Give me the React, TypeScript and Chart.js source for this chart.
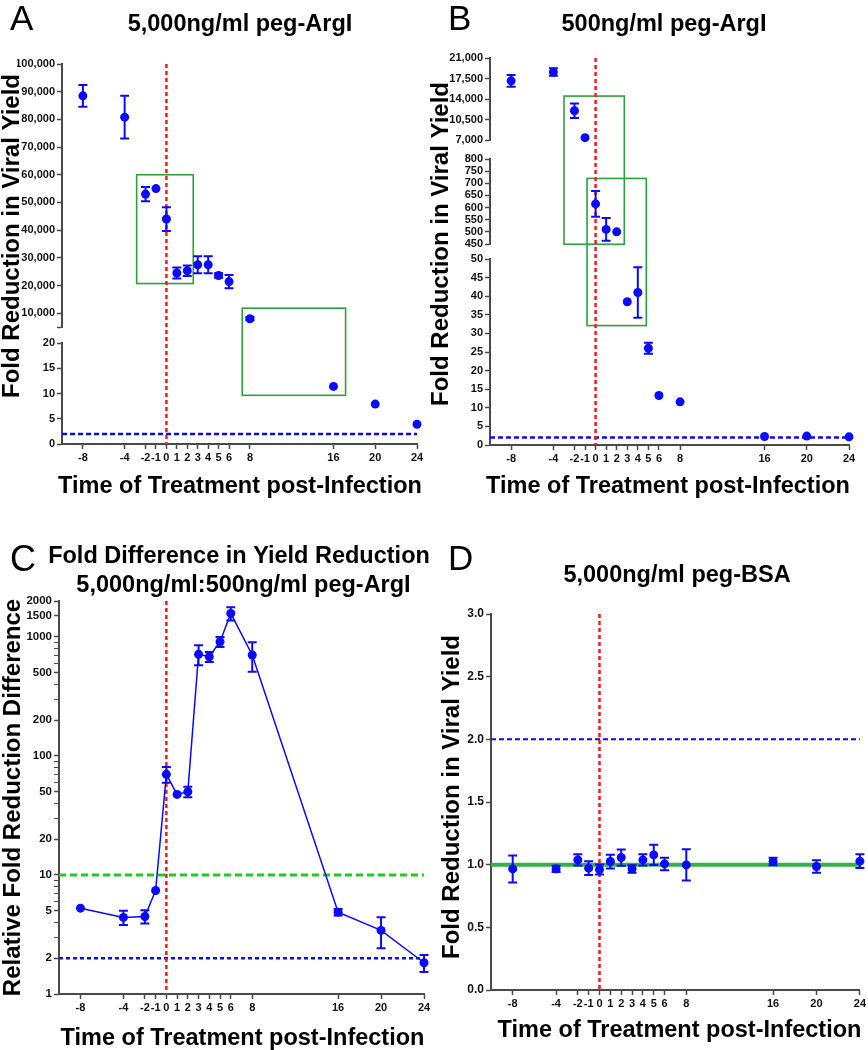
import React, { useEffect, useRef } from 'react';
import { Chart, registerables } from 'chart.js';

Chart.register(...registerables);

const FONT = '"Liberation Sans", Arial, Helvetica, sans-serif';
const AXIS = '#4a4a4a';
const BLUE = '#0a0aff';
const RED = '#ff1a1a';
const GREEN_RECT = '#2ea03c';
const W = 868;
const H = 1050;

// ---- data ----
const times = [-8, -4, -2, -1, 0, 1, 2, 3, 4, 5, 6, 8, 16, 20, 24];
const xTickValues = [-8, -4, -2, -1, 0, 1, 2, 3, 4, 5, 6, 8, 16, 20, 24];

const argi5000Values = [88500, 80800, 53000, 55000, 44000, 24500, 25300, 27500, 27500, 23600, 21400, 8000, 11.4, 7.9, 3.9];
const argi5000Errors = [3900, 7700, 2600, 0, 4300, 2000, 1900, 3100, 3100, 800, 2400, 600, 0, 0, 0];

const argi500Values = [17100, 18600, 12000, 7400, 615, 510, 500, 38.5, 41, 26, 13.3, 11.6, 2.3, 2.4, 2.2];
const argi500Errors = [1000, 650, 1250, 0, 53, 47, 0, 0, 6.8, 1.5, 0, 0, 0, 0, 0];

const ratioValues = [5.26, 4.4, 4.48, 7.4, 70, 47.5, 50, 713, 681, 910, 1574, 704, 4.87, 3.42, 1.83];
const ratioErrors = [0, 0.6, 0.57, 0, 10.5, 0, 5, 137, 65, 87, 200, 195, 0.3, 1.0, 0.3];

const bsaValues = [0.966, 0.966, 1.038, 0.972, 0.961, 1.025, 1.057, 0.966, 1.038, 1.078, 1.006, 0.998, 1.025, 0.985, 1.028];
const bsaErrors = [0.108, 0.025, 0.045, 0.055, 0.04, 0.055, 0.065, 0.03, 0.045, 0.08, 0.05, 0.125, 0.03, 0.05, 0.055];

const aTopTicks = [5000, 10000, 20000, 30000, 40000, 50000, 60000, 70000, 80000, 90000, 100000];
const aBottomTicks = [0, 5, 10, 15, 20];
const bTopTicks = [7000, 10500, 14000, 17500, 21000];
const bMidTicks = [450, 500, 550, 600, 650, 700, 750, 800];
const bBottomTicks = [0, 5, 10, 15, 20, 25, 30, 35, 40, 45, 50];
const cLabeledTicks = [1, 2, 5, 10, 20, 50, 100, 200, 500, 1000, 1500, 2000];
const cMinorTicks = [3, 4, 6, 7, 8, 9, 30, 40, 60, 70, 80, 90, 300, 400, 600, 700, 800, 900];
const dTicks = [0, 0.5, 1, 1.5, 2, 2.5, 3];

// boxes (data coordinates)
const aRects = [
  { x0: -2.85, x1: 2.57, top: 60000, topAxis: 'yTop', bottom: 20700, bottomAxis: 'yTop' },
  { x0: 7.26, x1: 17.16, top: 11800, topAxis: 'yTop', bottom: 9.64, bottomAxis: 'yBot' },
];
const bRects = [
  { x0: -2.99, x1: 2.72, top: 14500, topAxis: 'yTop', bottom: 449, bottomAxis: 'yMid' },
  { x0: -0.81, x1: 4.8, top: 720, topAxis: 'yMid', bottom: 32.1, bottomAxis: 'yBot' },
];

// ---- helpers ----
type Pt = { x: number; y: number; e: number };
function points(values: number[], errors: number[], keep: (v: number) => boolean): Pt[] {
  return times.map((t, i) => ({ x: t, y: values[i], e: errors[i] })).filter((p) => keep(p.y));
}

const pointStyle = {
  pointRadius: 4.5,
  pointHoverRadius: 4.5,
  pointBackgroundColor: BLUE,
  pointBorderColor: BLUE,
  pointBorderWidth: 0,
  showLine: false,
  clip: false as any,
};

const comma = (v: number) => v.toLocaleString('en-US');

function xScale(size: number) {
  return {
    type: 'linear',
    position: 'bottom',
    min: -10,
    max: 24,
    afterBuildTicks: (s: any) => {
      s.ticks = xTickValues.map((v) => ({ value: v }));
    },
    afterFit: (s: any) => {
      s.height = 25;
    },
    ticks: {
      autoSkip: false,
      maxRotation: 0,
      minRotation: 0,
      padding: 2,
      color: '#111',
      font: { family: FONT, size, weight: 'bold' },
      callback: (v: any) => String(v),
    },
    grid: { display: true, drawOnChartArea: false, drawTicks: true, tickLength: 5, tickColor: AXIS, tickWidth: 1.5 },
    border: { display: true, color: AXIS, width: 2 },
  };
}

function yScale(o: {
  min: number;
  max: number;
  ticks: number[];
  fmt: (v: number) => string;
  size: number;
  stackWeight?: number;
  weight?: number;
  log?: boolean;
  tickWidth?: any;
}) {
  const s: any = {
    type: o.log ? 'logarithmic' : 'linear',
    position: 'left',
    min: o.min,
    max: o.max,
    afterBuildTicks: (sc: any) => {
      sc.ticks = o.ticks.map((v) => ({ value: v }));
    },
    afterFit: (sc: any) => {
      sc.width = 45;
    },
    ticks: {
      autoSkip: false,
      padding: 2,
      color: '#111',
      font: { family: FONT, size: o.size, weight: 'bold' },
      callback: (v: any) => o.fmt(Number(v)),
    },
    grid: { display: true, drawOnChartArea: false, drawTicks: true, tickLength: 5, tickColor: AXIS, tickWidth: o.tickWidth || 1.5 },
    border: { display: true, color: AXIS, width: 2 },
  };
  if (o.stackWeight !== undefined) {
    s.stack = 'left';
    s.stackWeight = o.stackWeight;
    s.weight = o.weight;
  }
  return s;
}

function gapScale(stackWeight: number, weight: number) {
  return {
    type: 'linear',
    position: 'left',
    stack: 'left',
    stackWeight,
    weight,
    min: 0,
    max: 1,
    display: true,
    ticks: { display: false },
    grid: { display: false },
    border: { display: false },
    afterFit: (sc: any) => {
      sc.width = 45;
    },
  };
}

type HLine = { y: number; axis: string; color: string; width: number; dash: number[] };
type Rect = { x0: number; x1: number; top: number; topAxis: string; bottom: number; bottomAxis: string };

function annotations(hlines: HLine[], rects: Rect[]) {
  return {
    id: 'annotations',
    beforeDatasetsDraw(chart: any) {
      const { ctx, chartArea: a, scales } = chart;
      ctx.save();
      rects.forEach((r) => {
        const x0 = scales.x.getPixelForValue(r.x0);
        const x1 = scales.x.getPixelForValue(r.x1);
        const y0 = scales[r.topAxis].getPixelForValue(r.top);
        const y1 = scales[r.bottomAxis].getPixelForValue(r.bottom);
        ctx.strokeStyle = GREEN_RECT;
        ctx.lineWidth = 1.6;
        ctx.setLineDash([]);
        ctx.strokeRect(x0, y0, x1 - x0, y1 - y0);
      });
      hlines.forEach((h) => {
        const y = scales[h.axis].getPixelForValue(h.y);
        ctx.strokeStyle = h.color;
        ctx.lineWidth = h.width;
        ctx.setLineDash(h.dash);
        ctx.beginPath();
        ctx.moveTo(a.left, y);
        ctx.lineTo(a.right, y);
        ctx.stroke();
      });
      const x = scales.x.getPixelForValue(0);
      ctx.strokeStyle = RED;
      ctx.lineWidth = 2.5;
      ctx.setLineDash([4, 3]);
      ctx.beginPath();
      ctx.moveTo(x, a.top);
      ctx.lineTo(x, a.bottom);
      ctx.stroke();
      ctx.restore();
    },
  };
}

const errorBars = {
  id: 'errorBars',
  beforeDatasetsDraw(chart: any) {
    const ctx = chart.ctx;
    ctx.save();
    ctx.strokeStyle = BLUE;
    ctx.lineWidth = 2;
    ctx.setLineDash([]);
    chart.data.datasets.forEach((ds: any, i: number) => {
      const meta = chart.getDatasetMeta(i);
      const ys = chart.scales[meta.yAxisID];
      ds.data.forEach((p: Pt, j: number) => {
        if (!p.e) return;
        const x = meta.data[j].x;
        const t = ys.getPixelForValue(p.y + p.e);
        const b = ys.getPixelForValue(p.y - p.e);
        ctx.beginPath();
        ctx.moveTo(x, t);
        ctx.lineTo(x, b);
        ctx.moveTo(x - 4.5, t);
        ctx.lineTo(x + 4.5, t);
        ctx.moveTo(x - 4.5, b);
        ctx.lineTo(x + 4.5, b);
        ctx.stroke();
      });
    });
    ctx.restore();
  },
};

type Txt = { text: string; x: number; y: number; size: number; bold?: boolean; align?: CanvasTextAlign; rotate?: boolean };
function texts(items: Txt[]) {
  return {
    id: 'panelTexts',
    afterDraw(chart: any) {
      const ctx = chart.ctx;
      items.forEach((t) => {
        ctx.save();
        ctx.fillStyle = '#000';
        ctx.font = `${t.bold ? 'bold ' : ''}${t.size}px ${FONT}`;
        ctx.textAlign = t.align || 'center';
        ctx.textBaseline = 'alphabetic';
        if (t.rotate) {
          ctx.translate(t.x, t.y);
          ctx.rotate(-Math.PI / 2);
          ctx.fillText(t.text, 0, 0);
        } else {
          ctx.fillText(t.text, t.x, t.y);
        }
        ctx.restore();
      });
    },
  };
}

// area = plot rectangle on the page; y-axis box 45px, x-axis box 25px
function pad(left: number, top: number, right: number, bottom: number) {
  return { left: left - 45, top, right: W - right, bottom: H - bottom - 25 };
}

const baseOptions = (padding: any, scales: any) => ({
  responsive: false,
  animation: false,
  devicePixelRatio: 1,
  layout: { padding },
  plugins: { legend: { display: false }, tooltip: { enabled: false }, title: { display: false } },
  scales,
});

const Y_TITLE = 'Fold Reduction in Viral Yield';
const X_TITLE = 'Time of Treatment post-Infection';

function configA(): any {
  return {
    type: 'scatter',
    data: {
      datasets: [
        { data: points(argi5000Values, argi5000Errors, (v) => v >= 1000), yAxisID: 'yTop', ...pointStyle },
        { data: points(argi5000Values, argi5000Errors, (v) => v < 1000), yAxisID: 'yBot', ...pointStyle },
      ],
    },
    options: baseOptions(pad(62, 64, 417, 444), {
      x: xScale(11),
      yTop: yScale({ min: 5000, max: 100000, ticks: aTopTicks, size: 11, fmt: (v) => (v === 5000 ? '' : comma(v)), stackWeight: 263, weight: 3 }),
      yGap: gapScale(16, 2),
      yBot: yScale({ min: 0, max: 20, ticks: aBottomTicks, size: 11, fmt: (v) => String(v), stackWeight: 101, weight: 1 }),
    }),
    plugins: [
      annotations([{ y: 2, axis: 'yBot', color: BLUE, width: 2.5, dash: [5, 3] }], aRects),
      errorBars,
      texts([
        { text: 'A', x: 10, y: 30, size: 35, align: 'left' },
        { text: '5,000ng/ml peg-ArgI', x: 240, y: 31, size: 23.5, bold: true },
        { text: Y_TITLE, x: 18.5, y: 236, size: 24, bold: true, rotate: true },
        { text: X_TITLE, x: 240, y: 493, size: 23.5, bold: true },
      ]),
    ],
  };
}

function configB(): any {
  return {
    type: 'scatter',
    data: {
      datasets: [
        { data: points(argi500Values, argi500Errors, (v) => v >= 5000), yAxisID: 'yTop', ...pointStyle },
        { data: points(argi500Values, argi500Errors, (v) => v >= 100 && v < 5000), yAxisID: 'yMid', ...pointStyle },
        { data: points(argi500Values, argi500Errors, (v) => v < 100), yAxisID: 'yBot', ...pointStyle },
      ],
    },
    options: baseOptions(pad(490, 58, 849, 445), {
      x: xScale(11),
      yTop: yScale({ min: 7000, max: 21000, ticks: bTopTicks, size: 11, fmt: comma, stackWeight: 82, weight: 5 }),
      yGap1: gapScale(19, 4),
      yMid: yScale({ min: 450, max: 800, ticks: bMidTicks, size: 11, fmt: (v) => String(v), stackWeight: 85, weight: 3 }),
      yGap2: gapScale(15, 2),
      yBot: yScale({ min: 0, max: 50, ticks: bBottomTicks, size: 11, fmt: (v) => String(v), stackWeight: 186, weight: 1 }),
    }),
    plugins: [
      annotations([{ y: 2, axis: 'yBot', color: BLUE, width: 2.5, dash: [5, 3] }], bRects),
      errorBars,
      texts([
        { text: 'B', x: 448, y: 30, size: 35, align: 'left' },
        { text: '500ng/ml peg-ArgI', x: 664, y: 31, size: 23.5, bold: true },
        { text: Y_TITLE, x: 448, y: 244, size: 24, bold: true, rotate: true },
        { text: X_TITLE, x: 668, y: 493, size: 23.5, bold: true },
      ]),
    ],
  };
}

function configC(): any {
  const allTicks = [...cLabeledTicks, ...cMinorTicks].sort((a, b) => a - b);
  return {
    type: 'scatter',
    data: {
      datasets: [
        {
          data: points(ratioValues, ratioErrors, () => true),
          yAxisID: 'y',
          ...pointStyle,
          showLine: true,
          borderColor: BLUE,
          borderWidth: 1.5,
          tension: 0,
        },
      ],
    },
    options: baseOptions(pad(59, 601, 424, 994), {
      x: xScale(11),
      y: yScale({
        min: 1,
        max: 2000,
        log: true,
        ticks: allTicks,
        size: 11.5,
        fmt: (v) => (cLabeledTicks.includes(v) ? String(v) : ''),
        tickWidth: (ctx: any) => (ctx.tick && cLabeledTicks.includes(ctx.tick.value) ? 1.5 : 1),
      }),
    }),
    plugins: [
      annotations(
        [
          { y: 10, axis: 'y', color: '#1fcc1f', width: 3, dash: [7, 4] },
          { y: 2, axis: 'y', color: BLUE, width: 2.5, dash: [4, 3] },
        ],
        []
      ),
      errorBars,
      texts([
        { text: 'C', x: 10, y: 571, size: 36, align: 'left' },
        { text: 'Fold Difference in Yield Reduction', x: 239, y: 563, size: 23.5, bold: true },
        { text: '5,000ng/ml:500ng/ml peg-ArgI', x: 243.5, y: 592, size: 23.5, bold: true },
        { text: 'Relative Fold Reduction Difference', x: 20, y: 797.5, size: 24, bold: true, rotate: true },
        { text: X_TITLE, x: 242.5, y: 1045, size: 23.5, bold: true },
      ]),
    ],
  };
}

function configD(): any {
  return {
    type: 'scatter',
    data: {
      datasets: [{ data: points(bsaValues, bsaErrors, () => true), yAxisID: 'y', ...pointStyle }],
    },
    options: baseOptions(pad(491, 614, 860, 990), {
      x: xScale(11),
      y: yScale({ min: 0, max: 3, ticks: dTicks, size: 12, fmt: (v) => v.toFixed(1) }),
    }),
    plugins: [
      annotations(
        [
          { y: 2, axis: 'y', color: BLUE, width: 2, dash: [5, 3] },
          { y: 1, axis: 'y', color: '#35b04a', width: 4, dash: [] },
        ],
        []
      ),
      errorBars,
      texts([
        { text: 'D', x: 448, y: 570, size: 35, align: 'left' },
        { text: '5,000ng/ml peg-BSA', x: 677, y: 582, size: 23.5, bold: true },
        { text: Y_TITLE, x: 459, y: 797, size: 24, bold: true, rotate: true },
        { text: X_TITLE, x: 679.5, y: 1037, size: 23.5, bold: true },
      ]),
    ],
  };
}

export default function App() {
  const refA = useRef<HTMLCanvasElement>(null);
  const refB = useRef<HTMLCanvasElement>(null);
  const refC = useRef<HTMLCanvasElement>(null);
  const refD = useRef<HTMLCanvasElement>(null);

  useEffect(() => {
    const charts = [
      new Chart(refA.current as HTMLCanvasElement, configA()),
      new Chart(refB.current as HTMLCanvasElement, configB()),
      new Chart(refC.current as HTMLCanvasElement, configC()),
      new Chart(refD.current as HTMLCanvasElement, configD()),
    ];
    return () => charts.forEach((c) => c.destroy());
  }, []);

  const cv: React.CSSProperties = { position: 'absolute', left: 0, top: 0, width: W, height: H };

  return (
    <div style={{ position: 'absolute', left: 0, top: 0, width: W, height: H, background: '#fff', overflow: 'hidden' }}>
      <canvas ref={refA} width={W} height={H} style={cv} />
      <canvas ref={refB} width={W} height={H} style={cv} />
      <canvas ref={refC} width={W} height={H} style={cv} />
      <canvas ref={refD} width={W} height={H} style={cv} />
    </div>
  );
}
